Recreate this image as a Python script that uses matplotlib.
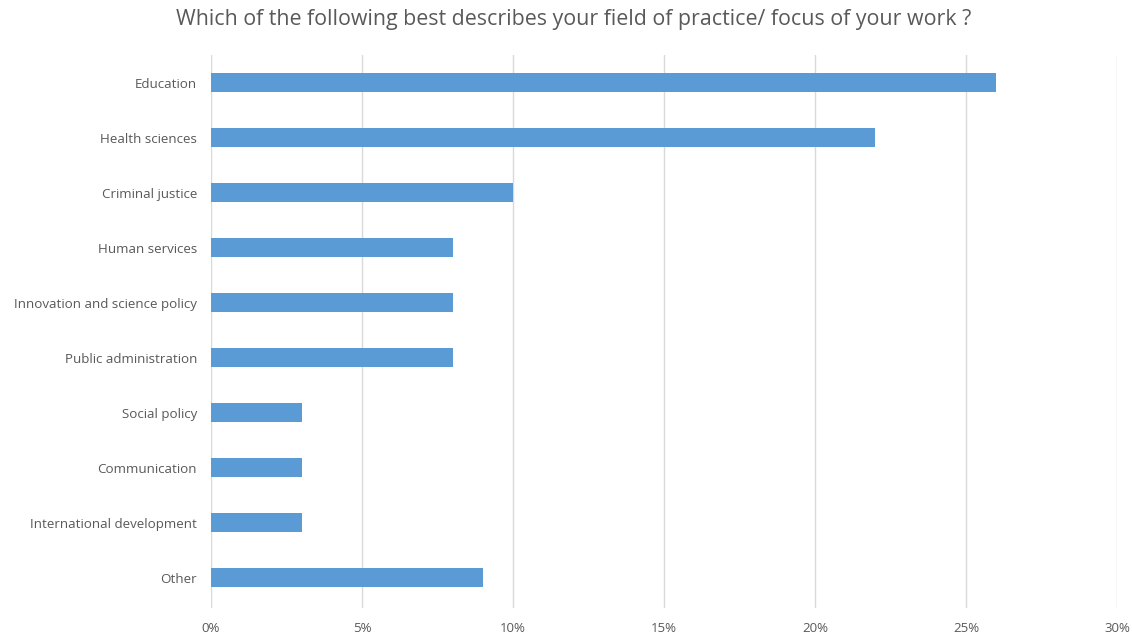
import matplotlib.pyplot as plt
from matplotlib.ticker import PercentFormatter

# Survey responses (percent of respondents)
categories = ["Education", "Health sciences", "Criminal justice", "Human services",
              "Innovation and science policy", "Public administration", "Social policy",
              "Communication", "International development", "Other"]
shares = [26, 22, 10, 8, 8, 8, 3, 3, 3, 9]
x_ticks = [0, 5, 10, 15, 20, 25, 30]

plt.rcParams['font.family'] = ['Open Sans', 'DejaVu Sans']

fig = plt.figure(figsize=(11.32, 6.35), dpi=100)
ax = fig.add_axes([211 / 1132, 27 / 635, (1117 - 211) / 1132, (580 - 27) / 635])

ax.barh(range(len(categories)), shares, height=0.34, color="#5B9BD5", zorder=3)

ax.set_yticks(range(len(categories)))
ax.set_yticklabels(categories, fontsize=9.6, color="#595959")
ax.set_ylim(9.55, -0.5)

ax.set_xlim(0, 30)
ax.set_xticks(x_ticks)
ax.xaxis.set_major_formatter(PercentFormatter(decimals=0))
ax.tick_params(axis='x', labelsize=9.5, labelcolor="#595959", length=0, pad=10)
ax.tick_params(axis='y', length=0, pad=10)

ax.grid(axis='x', color="#D9D9D9", linewidth=1, zorder=0)
for s in ax.spines.values():
    s.set_visible(False)

fig.suptitle("Which of the following best describes your field of practice/ focus of your work ?",
             x=574 / 1132, y=1 - 20 / 635, va='center', fontsize=15.4, color="#595959")

fig.savefig("out.png", dpi=100)
